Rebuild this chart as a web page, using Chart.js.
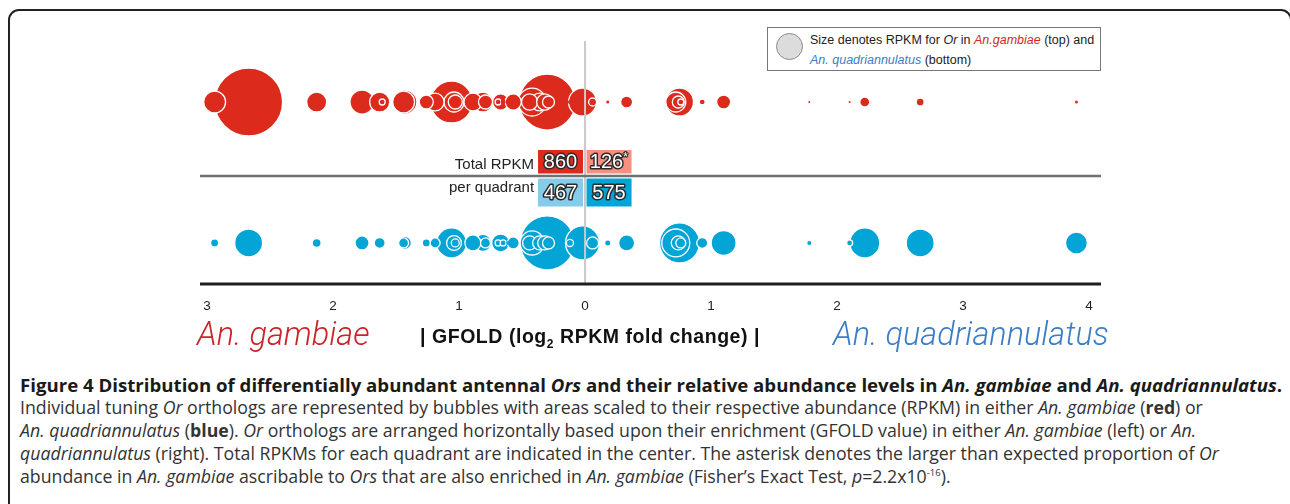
<!DOCTYPE html>
<html>
<head>
<meta charset="utf-8">
<script src="https://cdn.jsdelivr.net/npm/chart.js@4.4.1/dist/chart.umd.min.js"></script>
<style>
  html, body { margin: 0; padding: 0; background: #fff; }
  body { width: 1290px; height: 504px; overflow: hidden; position: relative;
         font-family: "Liberation Sans", Arial, sans-serif; color: #222; }
  #frame { position: absolute; left: 8px; top: 9px; width: 1284px; height: 600px;
           border: 2.5px solid #222; border-radius: 11px; box-sizing: border-box; }
  #chart { position: absolute; left: 0; top: 0; }
  #key { position: absolute; left: 767px; top: 27px; width: 334px; height: 44px;
         border: 1.5px solid #777; box-sizing: border-box; background: #fff; font-size: 12.5px; }
  #key .dot { position: absolute; left: 8px; top: 5px; width: 27px; height: 27px; border-radius: 50%;
              background: #dcdcdc; border: 1px solid #8a8a8a; box-sizing: border-box; }
  #key .l1 { position: absolute; left: 42px; top: 5px; white-space: nowrap; }
  #key .l2 { position: absolute; left: 42px; top: 25px; white-space: nowrap; }
  .red { color: #d2262b; }
  .blue { color: #3b7dc6; }
  .species { position: absolute; top: 315px; font-size: 32.5px; font-style: italic; white-space: nowrap;
             font-family: Roboto, "Liberation Sans", sans-serif; font-weight: 300; }
  #lab-gam { left: 197px; color: #c9252b; }
  #lab-qua { left: 833px; color: #3b7dc6; }
  #lab-gfold { position: absolute; left: 420px; top: 325px; font-size: 19.5px; font-weight: bold;
               white-space: nowrap; color: #111; width: max-content; }
  #lab-gfold sub { font-size: 12px; }
  #caption { position: absolute; left: 20px; top: 373px; font-family: "Open Sans", Lato, sans-serif;
             font-size: 15px; line-height: 23px; color: #333; }
  #caption .ln { display: block; width: max-content; white-space: nowrap; }
  #caption .title { font-weight: bold; color: #1a1a1a; }
  #caption sup { font-size: 9.5px; line-height: 0; }
</style>
</head>
<body>
<div id="frame"></div>
<canvas id="chart" width="1290" height="320"></canvas>

<div id="key">
  <div class="dot"></div>
  <div class="l1">Size denotes RPKM for <i>Or</i> in <i class="red">An.gambiae</i> (top) and</div>
  <div class="l2"><i class="blue">An. quadriannulatus</i> (bottom)</div>
</div>

<div id="lab-gam" class="species">An. gambiae</div>
<div id="lab-gfold" data-w="340">| GFOLD (log<sub>2</sub> RPKM fold change) |</div>
<div id="lab-qua" class="species">An. quadriannulatus</div>

<div id="caption">
  <div class="ln title" data-w="1263">Figure 4 Distribution of differentially abundant antennal <i>Ors</i> and their relative abundance levels in <i>An. gambiae</i> and <i>An. quadriannulatus</i>.</div>
  <div class="ln body">Individual tuning <i>Or</i> orthologs are represented by bubbles with areas scaled to their respective abundance (RPKM) in either <i>An. gambiae</i> (<b>red</b>) or</div>
  <div class="ln body"><i>An. quadriannulatus</i> (<b>blue</b>). <i>Or</i> orthologs are arranged horizontally based upon their enrichment (GFOLD value) in either <i>An. gambiae</i> (left) or <i>An.</i></div>
  <div class="ln body" data-w="1200"><i>quadriannulatus</i> (right). Total RPKMs for each quadrant are indicated in the center. The asterisk denotes the larger than expected proportion of <i>Or</i></div>
  <div class="ln body">abundance in <i>An. gambiae</i> ascribable to <i>Ors</i> that are also enriched in <i>An. gambiae</i> (Fisher’s Exact Test, <i>p</i>=2.2x10<sup>-16</sup>).</div>
</div>

<script>
// GFOLD per Or ortholog, negative = enriched in An. gambiae (left), positive = An. quadriannulatus (right)
const gfold = [-2.94, -2.67, -2.13, -1.77, -1.63, -1.61, -1.43, -1.44, -1.26, -1.19,
               -1.06, -1.04, -1.03, -0.89, -0.81, -0.79, -0.67, -0.69, -0.65, -0.61,
               -0.59, -0.57, -0.30, -0.42, -0.44, -0.36, -0.32, -0.29, -0.02, -0.12,
               0.06, 0.18, 0.33, 0.75, 0.72, 0.74, 0.76, 0.93, 1.10, 1.78,
               2.10, 2.22, 2.66, 3.90];
// RPKM in An. gambiae (top row)
const rpkmGambiae = [24, 231, 20, 29, 20, 1.8, 29, 24, 9.8, 16,
                     88, 20, 9.8, 16, 20, 9.8, 13, 1.8, 1.2, 1.2,
                     0.8, 13, 157, 39, 13, 16, 13, 7.2, 39, 0.8,
                     3.2, 0.45, 7.2, 39, 20, 7.2, 1.8, 1.8, 9.8, 0.2,
                     0.2, 5, 3.2, 0.45];
// RPKM in An. quadriannulatus (bottom row)
const rpkmQuad = [3.2, 39, 4, 9.8, 6, 0.45, 8.5, 5, 3.2, 5,
                  45, 11, 3.2, 12.8, 14.5, 5, 16, 1.8, 1.8, 0.8,
                  0.8, 7.2, 146, 29, 9.8, 9.8, 9.8, 7.2, 58, 2.5,
                  7.2, 1.25, 12.8, 80, 39, 9.8, 5, 6, 31, 0.8,
                  1.8, 45, 39, 24];
const tickValues = [-3, -2, -1, 0, 1, 2, 3, 4];
// total RPKM per quadrant: gambiae left, gambiae right, quad left, quad right
const quadrantTotals = ['860', '126', '467', '575'];

const RED = '#dc2a1c';
const BLUE = '#02a5d6';
const SIZE_K = Math.sqrt(5);   // bubble area proportional to RPKM
const ROW_TOP = 0.685, ROW_BOTTOM = -0.62;

function bubbles(rpkm, row) {
  return gfold.map((g, i) => ({ x: g, y: row, r: SIZE_K * Math.sqrt(rpkm[i]) }))
              .sort((a, b) => b.r - a.r);
}

const linesPlugin = {
  id: 'quadrants',
  afterDatasetsDraw(chart) {
    const { ctx, chartArea: a, scales: { x, y } } = chart;
    const x0 = x.getPixelForValue(0);
    const yMid = y.getPixelForValue(0);
    ctx.save();
    ctx.strokeStyle = '#c9c9c9';
    ctx.lineWidth = 2;
    ctx.beginPath(); ctx.moveTo(x0, a.top); ctx.lineTo(x0, a.bottom); ctx.stroke();

    ctx.strokeStyle = '#707070';
    ctx.lineWidth = 2.5;
    ctx.beginPath(); ctx.moveTo(a.left, yMid); ctx.lineTo(a.right, yMid); ctx.stroke();

    ctx.strokeStyle = '#1e1e1e';
    ctx.lineWidth = 3;
    ctx.beginPath(); ctx.moveTo(a.left, a.bottom); ctx.lineTo(a.right, a.bottom); ctx.stroke();

    // quadrant total boxes
    const boxes = [
      { l: x0 - 47, t: yMid - 26, w: 45, h: 23.5, c: RED },
      { l: x0 + 1.5, t: yMid - 26, w: 45, h: 23.5, c: '#f7907f' },
      { l: x0 - 47, t: yMid + 2.5, w: 45, h: 28, c: '#86cbea' },
      { l: x0 + 1.5, t: yMid + 2.5, w: 45, h: 28, c: BLUE }
    ];
    ctx.textBaseline = 'middle';
    boxes.forEach((b, i) => {
      ctx.fillStyle = b.c;
      ctx.fillRect(b.l, b.t, b.w, b.h);
      const txt = quadrantTotals[i];
      ctx.font = '20px "Liberation Sans", Arial, sans-serif';
      const tw = ctx.measureText(txt).width;
      const star = i === 1 ? 5 : 0;
      const tx = b.l + (b.w - tw - star) / 2;
      const ty = b.t + b.h / 2 + 1;
      ctx.textAlign = 'left';
      ctx.lineJoin = 'round';
      ctx.strokeStyle = '#2b2b2b';
      ctx.lineWidth = 3;
      ctx.strokeText(txt, tx, ty);
      ctx.fillStyle = '#fff';
      ctx.fillText(txt, tx, ty);
      if (star) {
        ctx.font = '12px "Liberation Sans", Arial, sans-serif';
        ctx.lineWidth = 2;
        ctx.strokeText('*', tx + tw, ty - 5);
        ctx.fillText('*', tx + tw, ty - 5);
      }
    });

    ctx.fillStyle = '#222';
    ctx.font = '15px "Liberation Sans", Arial, sans-serif';
    ctx.textAlign = 'right';
    ctx.fillText('Total RPKM', x0 - 51, yMid - 11);
    ctx.fillText('per quadrant', x0 - 51, yMid + 12);
    ctx.restore();
  }
};

new Chart(document.getElementById('chart').getContext('2d'), {
  type: 'bubble',
  data: {
    datasets: [
      { label: 'An. gambiae', data: bubbles(rpkmGambiae, ROW_TOP), backgroundColor: RED },
      { label: 'An. quadriannulatus', data: bubbles(rpkmQuad, ROW_BOTTOM), backgroundColor: BLUE }
    ]
  },
  options: {
    responsive: false,
    animation: false,
    events: [],
    clip: false,
    layout: { padding: { left: 200, right: 189, top: 41, bottom: 0 } },
    elements: {
      point: {
        borderColor: '#fff',
        borderWidth: ctx => (ctx.raw && ctx.raw.r < 3 ? 0 : 1.3)
      }
    },
    plugins: { legend: { display: false }, tooltip: { enabled: false } },
    scales: {
      x: {
        type: 'linear',
        min: -3.056,
        max: 4.095,
        grid: { display: false, drawTicks: false },
        border: { display: false },
        afterFit: s => { s.height = 36; },
        afterBuildTicks: s => { s.ticks = tickValues.map(v => ({ value: v })); },
        ticks: {
          autoSkip: false,
          maxRotation: 0,
          padding: 14,
          color: '#222',
          font: { family: '"Liberation Sans", Arial, sans-serif', size: 13.5 },
          callback: v => Math.abs(v)
        }
      },
      y: { display: false, min: -1, max: 1.25 }
    }
  },
  plugins: [linesPlugin]
});

// size caption text so the widest body line and the title span what they do in the figure
const widthOf = el => el.getBoundingClientRect().width;
const ref = document.querySelector('#caption .body[data-w]');
const bodySize = 15 * +ref.dataset.w / widthOf(ref);
document.querySelectorAll('#caption .body').forEach(el => { el.style.fontSize = bodySize + 'px'; });
const title = document.querySelector('#caption .title');
title.style.fontSize = (15 * +title.dataset.w / widthOf(title)) + 'px';
const gf = document.getElementById('lab-gfold');
gf.style.letterSpacing = ((+gf.dataset.w - widthOf(gf)) / gf.textContent.length) + 'px';
</script>
</body>
</html>
